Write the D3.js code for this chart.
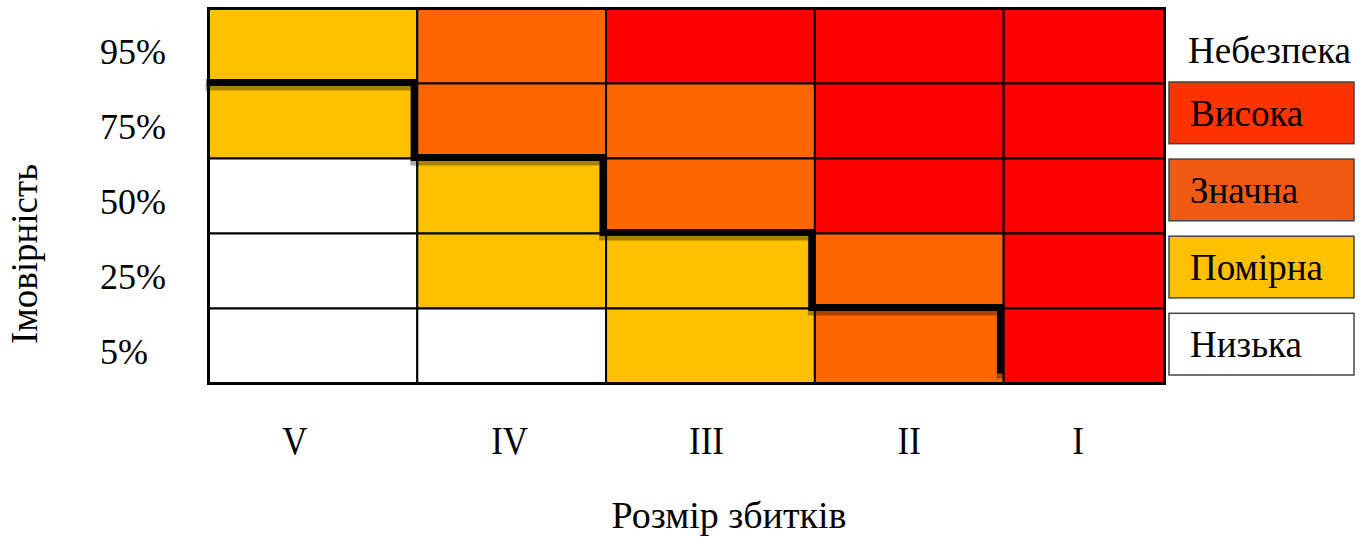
<!DOCTYPE html>
<html>
<head>
<meta charset="utf-8">
<script src="https://cdn.jsdelivr.net/npm/d3@7"></script>
<style>
	body { margin: 0; background: #fff; }
	text { font-family: "Liberation Serif", "Times New Roman", serif; fill: #000; }
</style>
</head>
<body>
<div id="chart"></div>
<script>
// Data
const damageLabels = ['V', 'IV', 'III', 'II', 'I']
const probLabels = ['95%', '75%', '50%', '25%', '5%']
const levelNames = ['Висока', 'Значна', 'Помірна', 'Низька']

// risk level per cell, rows from 95% down to 5%, columns V..I
const row95 = ['Помірна', 'Значна', 'Висока', 'Висока', 'Висока']
const row75 = ['Помірна', 'Значна', 'Значна', 'Висока', 'Висока']
const row50 = ['Низька', 'Помірна', 'Значна', 'Висока', 'Висока']
const row25 = ['Низька', 'Помірна', 'Помірна', 'Значна', 'Висока']
const row05 = ['Низька', 'Низька', 'Помірна', 'Значна', 'Висока']

// row edge (0 = top) the acceptable-risk line follows in each column
const limitEdge = [1, 2, 3, 4, 5]

// Layout
const W = 1367, H = 538
const colWeights = [209, 189, 209, 189, 161]
const gridLeft = 208.5, gridRight = 1164.5, gridTop = 8.5, gridBottom = 383.5
const labelNudge = [-18, -2, -4, 0, -6]

const cellColor = d3.scaleOrdinal()
	.domain(levelNames)
	.range(['#ff0000', '#ff6600', '#ffc000', '#ffffff'])

const legendColor = d3.scaleOrdinal()
	.domain(levelNames)
	.range(['#ff3300', '#f05a12', '#ffc000', '#ffffff'])

const edges = d3.cumsum([0].concat(colWeights))
const x = d3.scaleLinear()
	.domain([0, edges[edges.length - 1]])
	.range([gridLeft, gridRight])
const colX = i => x(edges[i])

const y = d3.scaleBand()
	.domain(probLabels)
	.range([gridTop, gridBottom])
const rowEdge = i => gridTop + i * y.step()

const svg = d3.select('#chart').append('svg')
	.attr('width', W)
	.attr('height', H)

// Cells
const rows = [row95, row75, row50, row25, row05]
const cells = rows.flatMap((r, ri) => r.map((lvl, ci) => ({ ri, ci, lvl })))

svg.append('g')
	.selectAll('rect')
	.data(cells)
	.join('rect')
	.attr('x', d => colX(d.ci))
	.attr('y', d => y(probLabels[d.ri]))
	.attr('width', d => colX(d.ci + 1) - colX(d.ci))
	.attr('height', y.bandwidth())
	.attr('fill', d => cellColor(d.lvl))
	.attr('stroke', '#000')
	.attr('stroke-width', 2)

svg.append('rect')
	.attr('x', gridLeft)
	.attr('y', gridTop)
	.attr('width', gridRight - gridLeft)
	.attr('height', gridBottom - gridTop)
	.attr('fill', 'none')
	.attr('stroke', '#000')
	.attr('stroke-width', 3)

// Stepped limit line
const n = limitEdge.length
const pts = [[colX(0) - 2, rowEdge(limitEdge[0]) - 1]]
for (let i = 0; i < n - 1; i++) {
	const xr = colX(i + 1) - 3
	pts.push([xr, rowEdge(limitEdge[i]) - 1])
	pts.push([xr, rowEdge(limitEdge[i + 1]) - (i + 1 < n - 1 ? 1 : 10)])
}

const line = d3.line()
svg.append('path')
	.attr('d', line(pts))
	.attr('transform', 'translate(-1,5)')
	.attr('fill', 'none')
	.attr('stroke', 'rgba(0,0,0,0.33)')
	.attr('stroke-width', 6)
svg.append('path')
	.attr('d', line(pts))
	.attr('fill', 'none')
	.attr('stroke', '#000')
	.attr('stroke-width', 7)
	.attr('stroke-linejoin', 'miter')

// Y labels
svg.append('g')
	.selectAll('text')
	.data(probLabels)
	.join('text')
	.attr('x', 100)
	.attr('y', d => y(d) + y.bandwidth() / 2 + 18)
	.attr('font-size', 36)
	.text(d => d)

svg.append('text')
	.attr('transform', `translate(37, 254) rotate(-90)`)
	.attr('text-anchor', 'middle')
	.attr('font-size', 37)
	.text('Імовірність')

// X labels (slightly stretched vertically, as in the original)
svg.append('g')
	.selectAll('text')
	.data(damageLabels)
	.join('text')
	.attr('transform', (d, i) => `translate(${(colX(i) + colX(i + 1)) / 2 + labelNudge[i]}, 454) scale(1, 1.14)`)
	.attr('text-anchor', 'middle')
	.attr('font-size', 35)
	.text(d => d)

svg.append('text')
	.attr('x', 729)
	.attr('y', 528)
	.attr('text-anchor', 'middle')
	.attr('font-size', 38)
	.text('Розмір збитків')

// Legend
svg.append('text')
	.attr('x', 1188)
	.attr('y', 63)
	.attr('font-size', 37)
	.text('Небезпека')

const ly = d3.scaleBand()
	.domain(levelNames)
	.range([82, 375])
	.paddingInner(0.2)

const $leg = svg.append('g')
	.selectAll('g')
	.data(levelNames)
	.join('g')
	.attr('transform', d => `translate(1169, ${ly(d)})`)

$leg.append('rect')
	.attr('width', 185)
	.attr('height', ly.bandwidth())
	.attr('fill', d => legendColor(d))
	.attr('stroke', '#444')
	.attr('stroke-width', 1.5)

$leg.append('text')
	.attr('x', 21)
	.attr('y', ly.bandwidth() / 2 + 13)
	.attr('font-size', 37)
	.text(d => d)
</script>
</body>
</html>
